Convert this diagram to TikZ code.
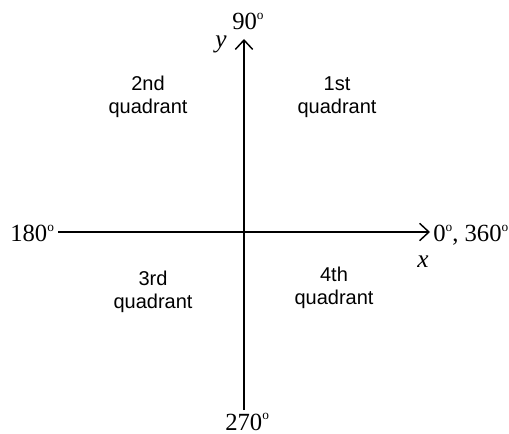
\documentclass[tikz,border=0pt]{standalone}
\usepackage{fontspec}
\setmainfont{Liberation Serif}
\setsansfont{Liberation Sans}
\usetikzlibrary{arrows.meta}
\newcommand\dg{\raisebox{0.42em}{\fontsize{10}{10}\selectfont o}}
\tikzset{
  axisline/.style={-{Straight Barb[length=7pt,width=13pt]}, line width=1.1pt},
  deg/.style={font=\fontsize{18.5}{22}\selectfont, inner sep=0pt, anchor=base west},
  axlbl/.style={font=\fontsize{19}{22}\selectfont\itshape, inner sep=0pt, anchor=base west},
  quad/.style={font=\sffamily\fontsize{15}{17.5}\selectfont, align=center, inner sep=0pt},
}
\begin{document}
\begin{tikzpicture}[x=0.75pt, y=-0.75pt]
  \useasboundingbox (0,0) rectangle (509,434);
  % axes
  \coordinate (O) at (244,232);
  \coordinate (xL) at (58,232);
  \coordinate (xR) at (430,232);
  \coordinate (yB) at (244,410);
  \coordinate (yT) at (244,39);
  \draw[axisline] (xL) -- (xR);
  \draw[axisline] (yB) -- (yT);
  % angle labels
  \node[deg] (n90) at (232,30) {90\dg};
  \node[deg] (n180) at (10,242) {180\dg};
  \node[deg] (n0) at (433,242) {0\dg, 360\dg};
  \node[deg] (n270) at (225,430) {270\dg};
  \node[axlbl] (ylbl) at (215,48) {y};
  \node[axlbl] (xlbl) at (417,267) {x};
  % quadrants
  \node[quad] (q1) at (337,97) {1st\\quadrant};
  \node[quad] (q2) at (148,97) {2nd\\quadrant};
  \node[quad] (q3) at (153,292) {3rd\\quadrant};
  \node[quad] (q4) at (334,288) {4th\\quadrant};
\end{tikzpicture}
\end{document}
